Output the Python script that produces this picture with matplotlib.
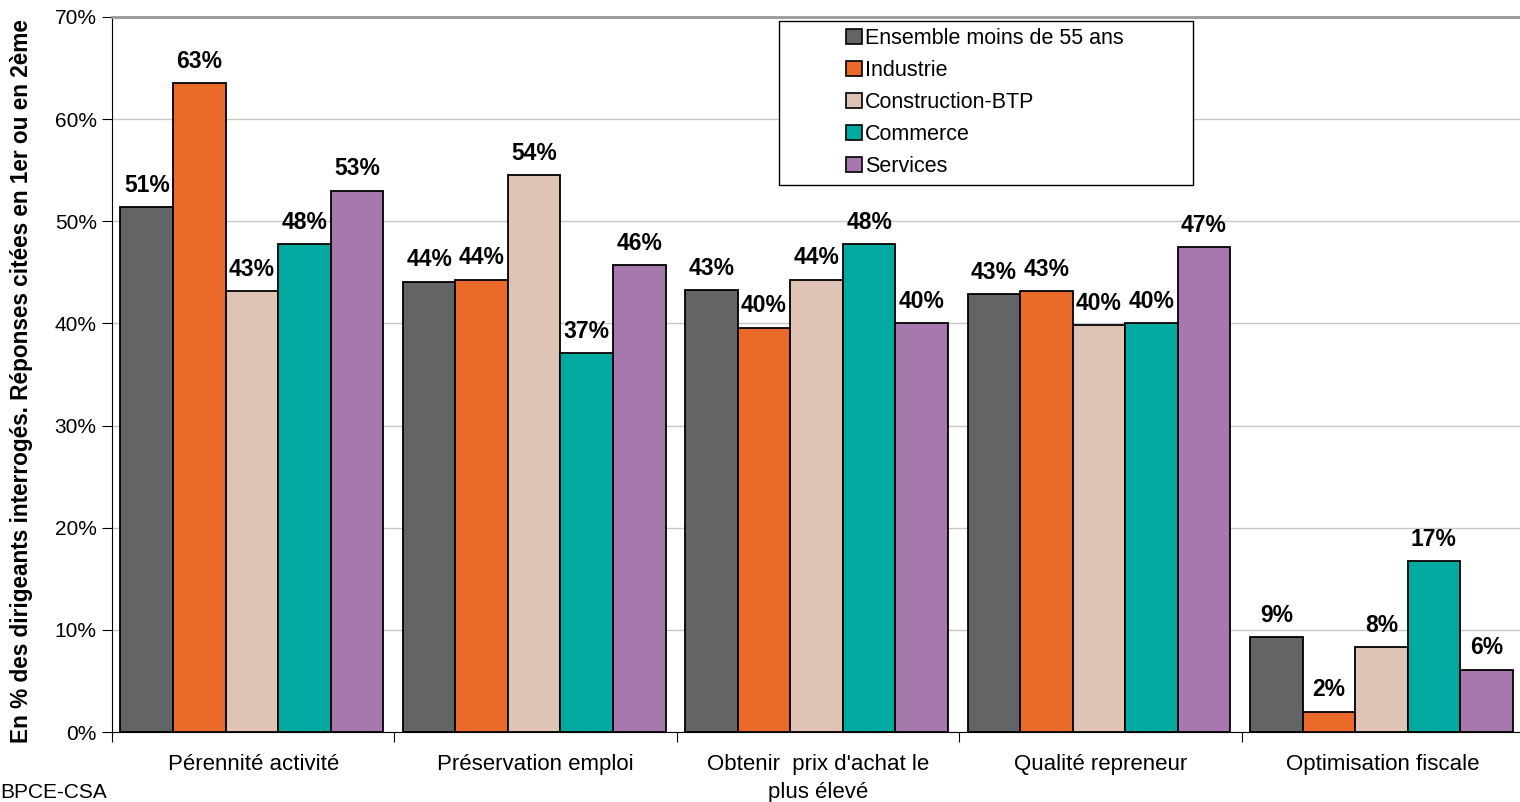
import matplotlib
matplotlib.use("Agg")
import matplotlib.pyplot as plt
import numpy as np
from matplotlib.patches import Patch, Rectangle

plt.rcParams['font.family'] = ['Liberation Sans', 'DejaVu Sans']

categories = ["Pérennité activité", "Préservation emploi",
              "Obtenir  prix d'achat le\nplus élevé", "Qualité repreneur",
              "Optimisation fiscale"]
series_names = ["Ensemble moins de 55 ans", "Industrie", "Construction-BTP",
                "Commerce", "Services"]
ensemble = [51.4, 44.1, 43.3, 42.9, 9.3]
industrie = [63.5, 44.3, 39.6, 43.2, 2.0]
construction = [43.2, 54.5, 44.3, 39.8, 8.3]
commerce = [47.8, 37.1, 47.8, 40.0, 16.7]
services = [53.0, 45.7, 40.0, 47.5, 6.1]
labels = [["51%", "44%", "43%", "43%", "9%"],
          ["63%", "44%", "40%", "43%", "2%"],
          ["43%", "54%", "44%", "40%", "8%"],
          ["48%", "37%", "48%", "40%", "17%"],
          ["53%", "46%", "40%", "47%", "6%"]]
colors = ["#636466", "#EA6A2A", "#DFC3B5", "#00AAA0", "#A678AD"]
yticks = [0, 10, 20, 30, 40, 50, 60, 70]

data = [ensemble, industrie, construction, commerce, services]

W, H = 1520, 802
fig = plt.figure(figsize=(W/100, H/100), dpi=100)
ax = fig.add_axes([112/W, 1-732/H, (1524-112)/W, (732-17)/H])

n = len(categories)
x = np.arange(n)
w = 0.186
for i, vals in enumerate(data):
    pos = x - 0.5 + 0.03 + w * (i + 0.5)
    bars = ax.bar(pos, vals, width=w, color=colors[i], edgecolor="black",
                  linewidth=1.3, zorder=3)
    for b, lab in zip(bars, labels[i]):
        ax.text(b.get_x() + b.get_width()/2, b.get_height() + 1.0, lab,
                ha="center", va="bottom", fontsize=16.5, fontweight="bold", zorder=4)

ax.set_xlim(-0.5, n - 0.5)
ax.set_ylim(0, 70)
ax.set_yticks(yticks)
ax.set_yticklabels([f"{v}%" for v in yticks], fontsize=15)
ax.yaxis.grid(True, color="#c8c8c8", linewidth=1, zorder=0)
ax.set_axisbelow(True)
ax.spines["top"].set_color("#999999")
ax.spines["top"].set_linewidth(2)
ax.spines["right"].set_visible(False)
ax.spines["left"].set_color("black")
ax.spines["bottom"].set_color("black")
ax.tick_params(axis="y", direction="out", length=7, pad=4)

ax.set_xticks(np.arange(n + 1) - 0.5)
ax.set_xticklabels([])
ax.tick_params(axis="x", direction="out", length=7)
ax.set_xticks(x, minor=True)
ax.set_xticklabels(categories, minor=True, fontsize=16, linespacing=1.4)
ax.tick_params(axis="x", which="minor", length=0, pad=16)

ax.set_ylabel("En % des dirigeants interrogés. Réponses citées en 1er ou en 2ème",
              fontsize=16.3, fontweight="bold")
ax.yaxis.set_label_coords((33-112)/1412, (732-381)/715)

# legend frame
fig.patches.append(Rectangle((779/W, 1-185/H), (1193-779)/W, (185-21)/H,
                             transform=fig.transFigure, facecolor="white",
                             edgecolor="black", linewidth=1.0, zorder=5))
handles = [Patch(facecolor=c, edgecolor="black", linewidth=1.2) for c in colors]
leg = fig.legend(handles, series_names, loc="upper left",
                 bbox_to_anchor=(846/W, 1-28/H), fontsize=15.5,
                 frameon=False, handlelength=0.75, handleheight=0.75,
                 handletextpad=0.15, labelspacing=0.51, borderpad=0,
                 borderaxespad=0)
leg.set_zorder(6)

fig.text(0.0, 0.0, "BPCE-CSA", fontsize=15, ha="left", va="bottom")

fig.savefig("out.png", dpi=100)
